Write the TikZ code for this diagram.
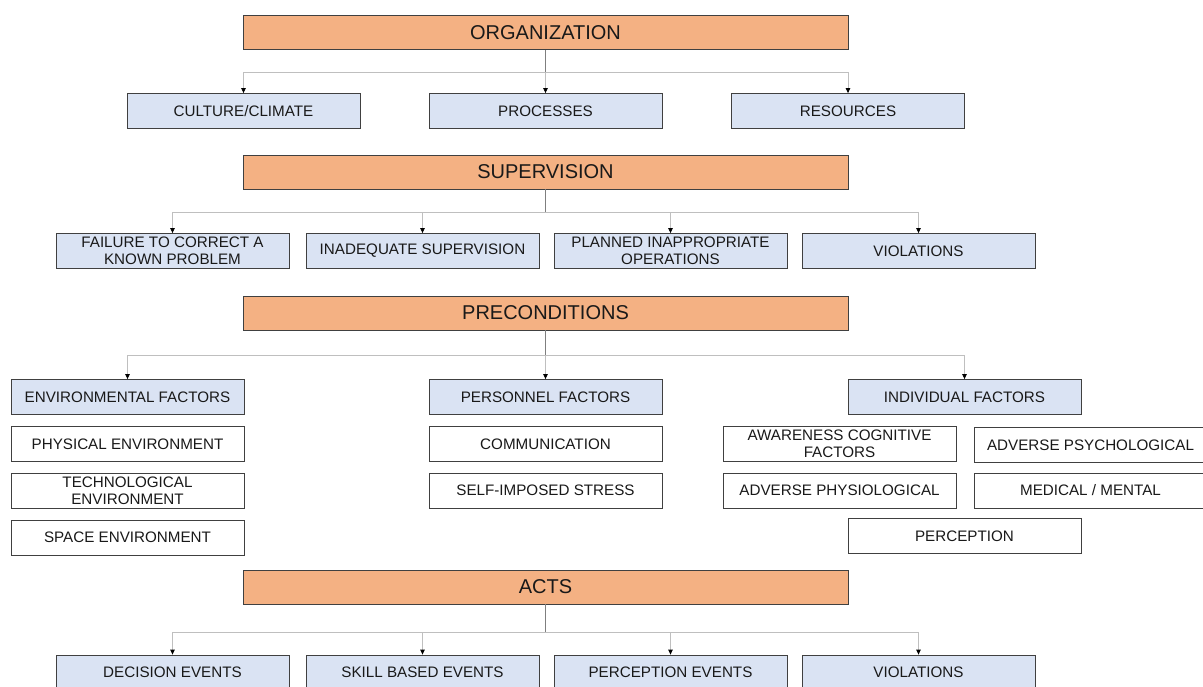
\documentclass[tikz,border=0pt]{standalone}
\usepackage{fontspec}
\setmainfont{Liberation Sans}
\usetikzlibrary{arrows.meta}
\definecolor{headfill}{HTML}{F4B183}
\definecolor{catfill}{HTML}{DAE3F3}
\definecolor{busgray}{HTML}{BFBFBF}
\definecolor{stemgray}{HTML}{7F7F7F}
\begin{document}
\begin{tikzpicture}[x=1pt,y=-1pt,
      every node/.style={
        draw=black!75,
        line width=0.8pt,
        text=black!90,
        inner sep=0pt,
        align=center,
        font=\fontsize{15.2}{17}\selectfont
      },
      head/.style={fill=headfill, minimum width=605, minimum height=34,
        font=\fontsize{20}{22}\selectfont},
      cat/.style={fill=catfill, minimum width=233, minimum height=35},
      sub/.style={fill=white, minimum width=233, minimum height=35},
      bus/.style={draw=busgray, line width=0.8pt},
      stem/.style={draw=stemgray, line width=0.8pt},
      arr/.style={bus, -{Triangle[length=5pt,width=4.5pt,color=black]}}]
      \useasboundingbox (0,0) rectangle (1203,686);

      % tier 1
      \node[head] (org) at (545.5,32.5) {ORGANIZATION};
      \node[cat] (cult) at (243.5,111) {CULTURE/CLIMATE};
      \node[cat] (proc) at (545.5,111) {PROCESSES};
      \node[cat] (res)  at (848,111)   {RESOURCES};

      % tier 2
      \node[head] (sup) at (545.5,172) {SUPERVISION};
      \node[cat] (fail) at (172.5,251) {FAILURE TO CORRECT A\\KNOWN PROBLEM};
      \node[cat] (inad) at (422.5,251) {INADEQUATE SUPERVISION};
      \node[cat] (plan) at (670.5,251) {PLANNED INAPPROPRIATE\\OPERATIONS};
      \node[cat] (viol) at (918.5,251) {VIOLATIONS};

      % tier 3
      \node[head] (pre) at (545.5,313) {PRECONDITIONS};
      \node[cat] (env)  at (127.5,397) {ENVIRONMENTAL FACTORS};
      \node[cat] (pers) at (545.5,397) {PERSONNEL FACTORS};
      \node[cat] (ind)  at (964.5,397) {INDIVIDUAL FACTORS};

      \node[sub] (phys)  at (127.5,444)   {PHYSICAL ENVIRONMENT};
      \node[sub] (tech)  at (127.5,490.5) {TECHNOLOGICAL\\ENVIRONMENT};
      \node[sub] (space) at (127.5,537.5) {SPACE ENVIRONMENT};

      \node[sub] (comm) at (545.5,444)   {COMMUNICATION};
      \node[sub] (self) at (545.5,490.5) {SELF-IMPOSED STRESS};

      \node[sub] (aware)  at (839.5,444)   {AWARENESS COGNITIVE\\FACTORS};
      \node[sub] (psych)  at (1090.5,445)  {ADVERSE PSYCHOLOGICAL};
      \node[sub] (physio) at (839.5,490.5) {ADVERSE PHYSIOLOGICAL};
      \node[sub] (med)    at (1090.5,490.5) {MEDICAL / MENTAL};
      \node[sub] (perc)   at (964.5,536)   {PERCEPTION};

      % tier 4
      \node[head] (acts) at (545.5,587) {ACTS};
      \node[cat] (dec)   at (172.5,672.5) {DECISION EVENTS};
      \node[cat] (skill) at (422.5,672.5) {SKILL BASED EVENTS};
      \node[cat] (pev)   at (670.5,672.5) {PERCEPTION EVENTS};
      \node[cat] (viol2) at (918.5,672.5) {VIOLATIONS};

      % bus points
      \coordinate (orgbus)  at (545.5,72);
      \coordinate (supbus)  at (545.5,212);
      \coordinate (prebus)  at (545.5,355);
      \coordinate (actsbus) at (545.5,632);

      \foreach \c in {cult,proc,res}
        \draw[arr] (orgbus) -| (\c.north);
      \foreach \c in {fail,inad,plan,viol}
        \draw[arr] (supbus) -| (\c.north);
      \foreach \c in {env,pers,ind}
        \draw[arr] (prebus) -| (\c.north);
      \foreach \c in {dec,skill,pev,viol2}
        \draw[arr] (actsbus) -| (\c.north);

      \draw[stem] (org.south) -- (orgbus);
      \draw[stem] (sup.south) -- (supbus);
      \draw[stem] (pre.south) -- (prebus);
      \draw[stem] (acts.south) -- (actsbus);
    \end{tikzpicture}
\end{document}
